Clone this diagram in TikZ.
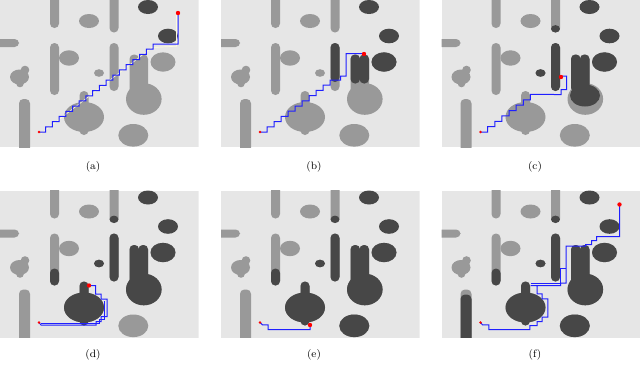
\documentclass[tikz,border=0pt]{standalone}
\definecolor{bg}{HTML}{E6E6E6}
\definecolor{obsL}{HTML}{999999}
\definecolor{obsD}{HTML}{474747}
\definecolor{pblue}{HTML}{1F1FFF}
\tikzset{
  lt/.style={fill=obsL},
  dk/.style={fill=obsD},
  route/.style={draw=pblue,line width=0.75pt,line join=miter},
  ghost/.style={draw=white!85!yellow,line width=0.5pt},
  startpt/.style={fill=red},
  goalpt/.style={fill=red},
  captext/.style={font=\footnotesize,inner sep=0pt}
}
% vertical/horizontal capsule: style, x1, x2, y1, y2
\newcommand\vcap[5]{\fill[#1,rounded corners=3.3pt] (#2,#4) rectangle (#3,#5);}
\newcommand\basemap{%
  \fill[bg] (0,0) rectangle (198.5,147);
  \vcap{lt}{50}{59}{-6}{28}
  \vcap{lt}{109.5}{118.5}{-6}{32.5}
  \fill[lt] (89,21) ellipse [x radius=10,y radius=7];
  \fill[dk] (148,7) ellipse [x radius=10,y radius=7];
  \fill[dk] (168,36) ellipse [x radius=10,y radius=7.3];
  \vcap{lt}{-6}{19}{39}{47}
  \vcap{lt}{50}{59}{43}{95}
  \fill[lt] (69,58) ellipse [x radius=10,y radius=7.7];
  \vcap{lt}{109.5}{118.5}{43}{91}
  \fill[lt] (99,73) ellipse [x radius=5,y radius=3.8];
  \fill[lt] (19.5,77) ellipse [x radius=9.5,y radius=7.5];
  \fill[lt] (25,70) circle [radius=4.3];
  \fill[lt] (20,83.5) circle [radius=3.8];
  \fill[lt] (163,62) ellipse [x radius=12.5,y radius=9.7];
  \vcap{lt}{129.5}{139}{54.5}{97}
  \vcap{lt}{138.5}{148}{54.5}{97}
  \fill[lt] (143.8,99) ellipse [x radius=17.8,y radius=15.8];
  \vcap{lt}{79.5}{88.5}{91}{108}
  \fill[lt] (84,117) ellipse [x radius=20,y radius=15];
  \fill[lt] (84,130.5) circle [radius=4.5];
  \vcap{lt}{19}{30}{99}{152}
  \fill[lt] (133.3,135.3) ellipse [x radius=15,y radius=11.3];
}
\newcommand\darkcommon{%
  \fill[dk] (114,28.8) ellipse [x radius=4.5,y radius=3.7];
  \vcap{dk}{109.5}{118.5}{43}{91}
  \fill[dk] (99,73) ellipse [x radius=5,y radius=3.8];
  \fill[dk] (163,62) ellipse [x radius=12.5,y radius=9.7];
}
\newcommand\darklate{%
  \darkcommon
  \vcap{dk}{50}{59}{78}{95}
  \vcap{dk}{129.5}{139}{54.5}{97}
  \vcap{dk}{138.5}{148}{54.5}{97}
  \fill[dk] (143.8,99) ellipse [x radius=17.8,y radius=15.8];
  \vcap{dk}{79.5}{88.5}{91}{108}
  \fill[dk] (84,117) ellipse [x radius=20,y radius=15];
  \fill[dk] (84,130.5) circle [radius=4.5];
}
\begin{document}
\begin{tikzpicture}[x=0.75pt,y=-0.75pt]
\useasboundingbox (0,0) rectangle (640,365);
% ---------------- (a)
\begin{scope}
  \clip (0,0) rectangle (198.5,147);
  \basemap
  \draw[ghost] (41,133.5) -- (152,47.5) -- (176.5,46.2) -- (176.5,15);
  \draw[route] (39,132) \foreach \i in {1,...,17}{ -- ++(6.706,0) -- ++(0,-5.176) } -- (178,44) -- (178,13);
  \fill[startpt] (39,132) circle [radius=1.4];
  \fill[goalpt] (178,13) circle [radius=2.2];
\end{scope}
\node[captext] (capa) at (93,167) {(a)};
% ---------------- (b)
\begin{scope}[shift={(221,0)}]
  \clip (0,0) rectangle (198.5,147);
  \basemap
  \vcap{dk}{109.5}{118.5}{43}{82}
  \fill[dk] (163,62) ellipse [x radius=12.5,y radius=9.7];
  \vcap{dk}{129.5}{139}{54.5}{83.5}
  \vcap{dk}{138.5}{148}{54.5}{83.5}
  \draw[route] (39,132) \foreach \i in {1,...,10}{ -- ++(7.0,0) -- ++(0,-5.2) } -- (119.5,80) -- (119.5,76) -- (125,76) -- (125,53.5) -- (143,53.5);
  \fill[startpt] (39,132) circle [radius=1.4];
  \fill[goalpt] (143,54) circle [radius=2.2];
\end{scope}
\node[captext] (capb) at (314,167) {(b)};
% ---------------- (c)
\begin{scope}[shift={(441.5,0)}]
  \clip (0,0) rectangle (198.5,147);
  \basemap
  \darkcommon
  \vcap{dk}{129.5}{139}{54.5}{92}
  \vcap{dk}{138.5}{148}{54.5}{92}
  \fill[dk] (143.5,95.5) ellipse [x radius=15,y radius=11];
  \draw[route] (39,132) \foreach \i in {1,...,7}{ -- ++(7.14,0) -- ++(0,-5.36) } -- (119.5,94.5) -- (119.5,89.5) -- (125,89.5) -- (125,76) -- (119.5,76);
  \fill[startpt] (39,132) circle [radius=1.4];
  \fill[goalpt] (119.5,77) circle [radius=2.2];
\end{scope}
\node[captext] (capc) at (535,167) {(c)};
% ---------------- (d)
\begin{scope}[shift={(0,190.5)}]
  \clip (0,0) rectangle (198.5,147);
  \basemap
  \darklate
  \draw[route] (39,132) -- (41,134.5) -- (96,134.5) -- (96,131) -- (101,131) -- (101,126) -- (107,126) -- (107,108.5) -- (101,108.5) -- (101,103.5) -- (95.5,103.5) -- (95.5,95) -- (89,95);
  \draw[route] (41,132.5) -- (99,132.5) -- (99,129) -- (104.5,129) -- (104.5,110.5);
  \fill[startpt] (39,132) circle [radius=1.4];
  \fill[goalpt] (89,95) circle [radius=2.2];
\end{scope}
\node[captext] (capd) at (93,355) {(d)};
% ---------------- (e)
\begin{scope}[shift={(221,190.5)}]
  \clip (0,0) rectangle (198.5,147);
  \basemap
  \darklate
  \fill[dk] (133.3,135.3) ellipse [x radius=15,y radius=11.3];
  \draw[route] (39,132) -- (41.5,134.3) -- (47,134.3) -- (47,139) -- (89,139) -- (89,134.5);
  \fill[startpt] (39,132) circle [radius=1.4];
  \fill[goalpt] (89,134.5) circle [radius=2.2];
\end{scope}
\node[captext] (cape) at (314,355) {(e)};
% ---------------- (f)
\begin{scope}[shift={(441.5,190.5)}]
  \clip (0,0) rectangle (198.5,147);
  \basemap
  \darklate
  \fill[dk] (133.3,135.3) ellipse [x radius=15,y radius=11.3];
  \vcap{dk}{19}{30}{104}{152}
  \draw[route] (39,132) -- (41,134.3) -- (47.3,134.3) -- (47.3,139) -- (88.3,139) -- (88.3,135) -- (95.7,135) -- (95.7,131) -- (100.7,131) -- (100.7,126.7) -- (106.3,126.7) -- (106.3,108.3) -- (100.7,108.3) -- (100.7,103.3) -- (95.7,103.3) -- (95.7,95) -- (89,95) -- (119,95) -- (119,92.5) -- (124.5,92.5) -- (124.5,55.5) -- (144,55.5) -- (144,54) -- (150,54) -- (150,50) -- (155,50) -- (155,46) -- (178,46) -- (178,14);
  \draw[route] (89,93) -- (119,93) -- (119,78) -- (124.5,78);
  \fill[startpt] (39,132) circle [radius=1.4];
  \fill[goalpt] (178,14) circle [radius=2.2];
\end{scope}
\node[captext] (capf) at (535,355) {(f)};
\end{tikzpicture}
\end{document}
